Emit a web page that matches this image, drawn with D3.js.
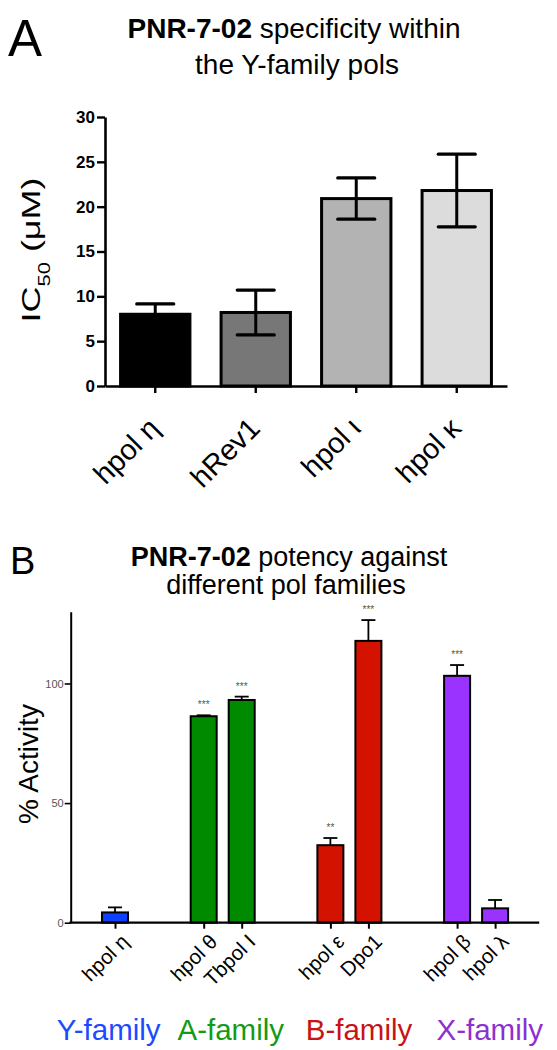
<!DOCTYPE html>
<html><head><meta charset="utf-8">
<script src="https://cdn.jsdelivr.net/npm/d3@7/dist/d3.min.js"></script>
<style>
html,body{margin:0;padding:0;background:#fff;}
svg{display:block;font-family:"Liberation Sans",Arial,Helvetica,sans-serif;}
</style></head>
<body>
<svg id="chart" width="557" height="1050"></svg>
<script>
// ---------- Panel A data ----------
const catsA = ["hpol η", "hRev1", "hpol ι", "hpol κ"];
const ic50 = [8.0, 8.2, 20.9, 21.8];
const ic50Err = [1.15, 2.5, 2.3, 4.05];
const fillsA = ["#000000", "#777777", "#b3b3b3", "#dcdcdc"];
const ticksA = [0, 5, 10, 15, 20, 25, 30];

// ---------- Panel B data ----------
const catsB = ["hpol η", "hpol θ", "Tbpol I", "hpol ε", "Dpo1", "hpol β", "hpol λ"];
const familyOfB = [0, 1, 1, 2, 2, 3, 3];
const activity = [4.3, 86.3, 93.1, 32.4, 117.8, 103.2, 6.0];
const activityErr = [2.1, 0.4, 1.4, 3.0, 8.7, 4.5, 3.5];
const stars = ["", "***", "***", "**", "***", "***", ""];
const families = ["Y-family", "A-family", "B-family", "X-family"];
const familyColors = ["#1c4bff", "#159a15", "#c81414", "#8d2fd2"];
const barColorsB = ["#1040ff", "#008a00", "#d41200", "#9a33ff"];
const ticksB = [0, 50, 100];

const svg = d3.select("#chart");

// ================= Panel A =================
const yA = d3.scaleLinear().domain([0, 30]).range([386, 117]);
const xA = d3.scaleBand().domain(catsA).range([105, 507]).paddingInner(0.31).paddingOuter(0.155);

svg.append("text").attr("x", 8).attr("y", 56).attr("font-size", 51).text("A");
const tA = svg.append("text").attr("text-anchor", "middle").attr("font-size", 28);
tA.append("tspan").attr("x", 294).attr("y", 38).attr("font-weight", "bold").text("PNR-7-02");
tA.append("tspan").text(" specificity within");
tA.append("tspan").attr("x", 297).attr("y", 74).text("the Y-family pols");

const gA = svg.append("g");
gA.selectAll("rect.bar").data(catsA).join("rect")
  .attr("class", "bar")
  .attr("x", d => xA(d)).attr("width", xA.bandwidth())
  .attr("y", (d, i) => yA(ic50[i])).attr("height", (d, i) => yA(0) - yA(ic50[i]))
  .attr("fill", (d, i) => fillsA[i]).attr("stroke", "#000").attr("stroke-width", 3);

const capA = 18.5;
catsA.forEach((c, i) => {
  const cx = xA(c) + xA.bandwidth() / 2;
  const lo = yA(ic50[i] - ic50Err[i]), hi = yA(ic50[i] + ic50Err[i]);
  gA.append("line").attr("x1", cx).attr("x2", cx).attr("y1", lo).attr("y2", hi)
    .attr("stroke", "#000").attr("stroke-width", 3);
  [lo, hi].forEach(yy => gA.append("line").attr("x1", cx - capA).attr("x2", cx + capA)
    .attr("y1", yy).attr("y2", yy).attr("stroke", "#000").attr("stroke-width", 3.2).attr("stroke-linecap", "round"));
});

const axA = svg.append("g").attr("transform", "translate(105,0)")
  .call(d3.axisLeft(yA).tickValues(ticksA).tickSize(8).tickSizeOuter(0).tickPadding(2));
axA.select(".domain").attr("stroke-width", 2.6);
axA.selectAll(".tick line").attr("stroke-width", 2.4);
axA.selectAll(".tick text").attr("font-size", 17).attr("font-weight", "bold").attr("font-family", "Liberation Sans, Arial").attr("fill", "#000");

const axAx = svg.append("g").attr("transform", "translate(0,386)")
  .call(d3.axisBottom(xA).tickSize(7).tickSizeOuter(0).tickFormat(""));
axAx.select(".domain").attr("stroke-width", 2.6);
axAx.selectAll(".tick line").attr("stroke-width", 2.4);
catsA.forEach((c) => {
  const cx = xA(c) + xA.bandwidth() / 2;
  svg.append("text").attr("text-anchor", "end").attr("font-size", 29)
    .attr("transform", `translate(${cx + 6},${430}) rotate(-45)`).text(c);
});

svg.append("text").attr("text-anchor", "middle").attr("font-size", 36)
  .attr("transform", "translate(40,250) rotate(-90) scale(1,0.74)")
  .call(t => {
    t.append("tspan").text("IC");
    t.append("tspan").attr("font-size", 22).attr("dy", 13).text("50");
    t.append("tspan").attr("dy", -13).text(" (μM)");
  });

// ================= Panel B =================
const yB = d3.scaleLinear().domain([0, 130]).range([922.7, 611.7]);
const slotOf = catsB.map((c, i) => i + familyOfB[i] * (4 / 3));
const xB = d3.scaleLinear().domain([0, 10]).range([115, 495.1]);
const bwB = 26;

svg.append("text").attr("x", 10).attr("y", 574).attr("font-size", 38).text("B");
const tB1 = svg.append("text").attr("text-anchor", "middle").attr("font-size", 27)
  .attr("x", 289).attr("y", 566);
tB1.append("tspan").attr("font-weight", "bold").text("PNR-7-02");
tB1.append("tspan").text(" potency against");
svg.append("text").attr("text-anchor", "middle").attr("font-size", 27)
  .attr("x", 286).attr("y", 594).text("different pol families");

const gB = svg.append("g");
catsB.forEach((c, i) => {
  const cx = xB(slotOf[i]);
  const top = yB(activity[i] + activityErr[i]);
  gB.append("line").attr("x1", cx).attr("x2", cx).attr("y1", yB(activity[i])).attr("y2", top)
    .attr("stroke", "#000").attr("stroke-width", 1.8);
  gB.append("line").attr("x1", cx - 7).attr("x2", cx + 7).attr("y1", top).attr("y2", top)
    .attr("stroke", "#000").attr("stroke-width", 1.8);
  if (stars[i]) {
    gB.append("text").attr("x", cx).attr("y", top - 7).attr("text-anchor", "middle")
      .attr("font-size", 10).attr("fill", "#555").text(stars[i]);
  }
});
gB.selectAll("rect.barB").data(catsB).join("rect")
  .attr("class", "barB")
  .attr("x", (d, i) => xB(slotOf[i]) - bwB / 2).attr("width", bwB)
  .attr("y", (d, i) => yB(activity[i])).attr("height", (d, i) => yB(0) - yB(activity[i]))
  .attr("fill", (d, i) => barColorsB[familyOfB[i]]).attr("stroke", "#000").attr("stroke-width", 2);

const axB = svg.append("g").attr("transform", "translate(70.7,0)")
  .call(d3.axisLeft(yB).tickValues(ticksB).tickSize(6).tickSizeOuter(0).tickPadding(1));
axB.select(".domain").attr("stroke-width", 2);
axB.selectAll(".tick line").attr("stroke-width", 1.6);
axB.selectAll(".tick text").attr("font-size", 11).attr("font-family", "Liberation Sans, Arial").attr("fill", "#555");

const axBx = svg.append("g").attr("transform", "translate(0,922.7)")
  .call(d3.axisBottom(xB).tickValues(slotOf).tickSize(6).tickSizeOuter(0).tickFormat(""));
axBx.select(".domain").remove();
axBx.selectAll(".tick line").attr("stroke-width", 2);
svg.append("line").attr("x1", xB(-1.2)).attr("x2", xB(11.16)).attr("y1", 922.7).attr("y2", 922.7)
  .attr("stroke", "#000").attr("stroke-width", 2.2);
catsB.forEach((c, i) => {
  const cx = xB(slotOf[i]);
  svg.append("text").attr("text-anchor", "end").attr("font-size", 20.5)
    .attr("transform", `translate(${cx + 15},${943}) rotate(-45)`).text(c);
});

svg.append("text").attr("text-anchor", "middle").attr("font-size", 28)
  .attr("transform", "translate(38,764) rotate(-90)").text("% Activity");

const famX = [108.7, 230.8, 359, 489.8];
families.forEach((f, i) => {
  svg.append("text").attr("x", famX[i]).attr("y", 1040).attr("text-anchor", "middle")
    .attr("font-size", 29.5).attr("fill", familyColors[i]).text(f);
});
</script>
</body></html>
